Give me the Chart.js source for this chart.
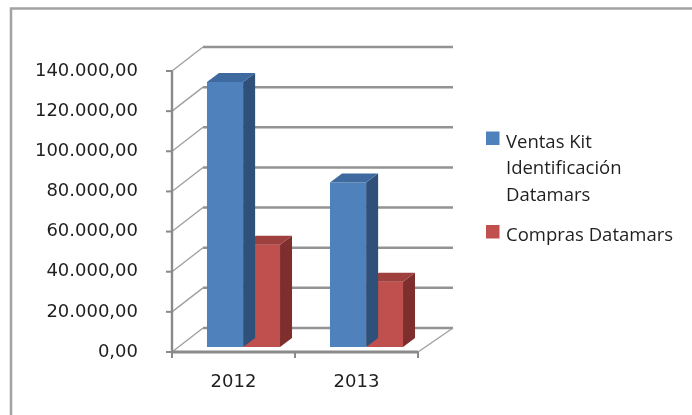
<!DOCTYPE html>
<html>
<head>
<meta charset="utf-8">
<script src="https://cdn.jsdelivr.net/npm/chart.js@4.4.1/dist/chart.umd.min.js"></script>
<style>
  html,body{margin:0;padding:0;background:#fff;}
  #wrap{position:relative;width:692px;height:415px;}
  canvas{display:block;}
</style>
</head>
<body>
<div id="wrap"><canvas id="c" width="692" height="415"></canvas></div>
<script>
// ---- data ----
const categories = ['2012', '2013'];
const seriesNames = [['Ventas Kit', 'Identificación', 'Datamars'], ['Compras Datamars']];
const ventasKit = [132000, 82000];
const comprasDatamars = [51000, 32500];
const yTicks = [0, 20000, 40000, 60000, 80000, 100000, 120000, 140000];

// ---- style ----
const FRONT = ['#4F81BD', '#C0504D'];
const TOP = ['#3F6A9F', '#9E403D'];
const SIDE = ['#2F5079', '#7E2F2D'];
const BACK_DX = 31, BACK_DX_R = 35, BACK_DY = -24; // wall depth
const BAR_SHIFT_X = 10, BAR_SHIFT_Y = -5;           // bar plane
const BAR_DX = 12, BAR_DY = -9;                      // bar depth
const AXIS_FONT = 'DejaVu Sans';
const TEXT = '#1f1f1f';

function fmt(v) {
  const s = Math.round(v).toString().replace(/\B(?=(\d{3})+(?!\d))/g, '.');
  return s + ',00';
}

const threeD = {
  id: 'threeD',
  beforeDraw(chart) {
    const ctx = chart.ctx;
    ctx.save();
    ctx.fillStyle = '#fff';
    ctx.fillRect(0, 0, chart.width, chart.height);
    // outer frame
    ctx.strokeStyle = '#a3a3a3';
    ctx.lineWidth = 2.5;
    ctx.beginPath();
    ctx.moveTo(11, 420);
    ctx.lineTo(11, 8.5);
    ctx.lineTo(700, 8.5);
    ctx.stroke();
    ctx.restore();
  },
  beforeDatasetsDraw(chart) {
    const ctx = chart.ctx;
    const ys = chart.scales.y, xs = chart.scales.x;
    const L = xs.left, R = xs.right;
    ctx.save();
    ctx.lineCap = 'butt';
    yTicks.forEach(v => {
      const yF = ys.getPixelForValue(v);
      const yB = yF + BACK_DY;
      // back wall gridline
      ctx.strokeStyle = '#939393';
      ctx.lineWidth = 2.5;
      ctx.beginPath();
      ctx.moveTo(L + BACK_DX, yB);
      ctx.lineTo(R + BACK_DX_R, yB);
      ctx.stroke();
      // side wall diagonal
      ctx.strokeStyle = '#a0a0a0';
      ctx.lineWidth = 1.4;
      ctx.beginPath();
      ctx.moveTo(L, yF);
      ctx.lineTo(L + BACK_DX, yB);
      ctx.stroke();
      // tick mark
      ctx.strokeStyle = '#8a8a8a';
      ctx.lineWidth = 2;
      ctx.beginPath();
      ctx.moveTo(L - 6, yF);
      ctx.lineTo(L, yF);
      ctx.stroke();
    });
    const y0 = ys.getPixelForValue(0);
    // floor right diagonal
    ctx.strokeStyle = '#a0a0a0';
    ctx.lineWidth = 1.4;
    ctx.beginPath();
    ctx.moveTo(R, y0);
    ctx.lineTo(R + BACK_DX_R, y0 + BACK_DY);
    ctx.stroke();
    // front vertical axis
    ctx.strokeStyle = '#8a8a8a';
    ctx.lineWidth = 2.4;
    ctx.beginPath();
    ctx.moveTo(L, ys.getPixelForValue(yTicks[yTicks.length - 1]));
    ctx.lineTo(L, y0 + 1);
    ctx.stroke();
    // floor front line
    ctx.lineWidth = 3;
    ctx.beginPath();
    ctx.moveTo(L - 1, y0);
    ctx.lineTo(R, y0);
    ctx.stroke();
    // category ticks
    const mid = (xs.getPixelForValue(0) + xs.getPixelForValue(1)) / 2;
    ctx.lineWidth = 2;
    [L, mid, R].forEach(x => {
      ctx.beginPath();
      ctx.moveTo(x, y0);
      ctx.lineTo(x, y0 + 6);
      ctx.stroke();
    });
    ctx.restore();
  },
  beforeDatasetDraw(chart) {
    chart.ctx.save();
    chart.ctx.translate(BAR_SHIFT_X, BAR_SHIFT_Y);
  },
  afterDatasetDraw(chart, args) {
    const ctx = chart.ctx;
    const i = args.index;
    const meta = chart.getDatasetMeta(i);
    meta.data.forEach(el => {
      const p = el.getProps(['x', 'y', 'base', 'width'], true);
      const l = p.x - p.width / 2, r = p.x + p.width / 2;
      // side face
      ctx.fillStyle = SIDE[i];
      ctx.beginPath();
      ctx.moveTo(r, p.y);
      ctx.lineTo(r + BAR_DX, p.y + BAR_DY);
      ctx.lineTo(r + BAR_DX, p.base + BAR_DY);
      ctx.lineTo(r, p.base);
      ctx.closePath();
      ctx.fill();
      // top face
      ctx.fillStyle = TOP[i];
      ctx.beginPath();
      ctx.moveTo(l, p.y);
      ctx.lineTo(l + BAR_DX, p.y + BAR_DY);
      ctx.lineTo(r + BAR_DX, p.y + BAR_DY);
      ctx.lineTo(r, p.y);
      ctx.closePath();
      ctx.fill();
    });
    ctx.restore();
  },
  afterDraw(chart) {
    // legend
    const ctx = chart.ctx;
    ctx.save();
    ctx.font = '18.5px "Open Sans"';
    ctx.textBaseline = 'alphabetic';
    ctx.textAlign = 'left';
    const items = [
      {sq: 131.5, base: [147.5, 174, 200.5]},
      {sq: 225, base: [241]}
    ];
    chart.data.datasets.forEach((ds, i) => {
      const it = items[i];
      ctx.fillStyle = FRONT[i];
      ctx.fillRect(486, it.sq, 13.5, 13.5);
      ctx.fillStyle = TEXT;
      seriesNames[i].forEach((line, k) => ctx.fillText(line, 506, it.base[k]));
    });
    ctx.restore();
  }
};

new Chart(document.getElementById('c'), {
  type: 'bar',
  data: {
    labels: categories,
    datasets: [
      {label: seriesNames[0].join(' '), data: ventasKit, backgroundColor: FRONT[0], clip: false},
      {label: seriesNames[1].join(' '), data: comprasDatamars, backgroundColor: FRONT[1], clip: false}
    ]
  },
  options: {
    responsive: false,
    animation: false,
    events: [],
    categoryPercentage: 0.6,
    barPercentage: 0.98,
    layout: {padding: {top: 71, right: 274, left: 0, bottom: 0}},
    plugins: {legend: {display: false}, tooltip: {enabled: false}},
    scales: {
      x: {
        grid: {display: false, drawTicks: false},
        border: {display: false},
        ticks: {padding: 20, color: TEXT, font: {family: AXIS_FONT, size: 18}},
        afterFit(s) { s.height = 63; }
      },
      y: {
        min: 0, max: 140000,
        afterBuildTicks(s) { s.ticks = yTicks.map(v => ({value: v})); },
        grid: {display: false, drawTicks: false},
        border: {display: false},
        ticks: {padding: 34, color: TEXT, font: {family: AXIS_FONT, size: 18}, callback: v => fmt(v)},
        afterFit(s) { s.width = 172; }
      }
    }
  },
  plugins: [threeD]
});
</script>
</body>
</html>
